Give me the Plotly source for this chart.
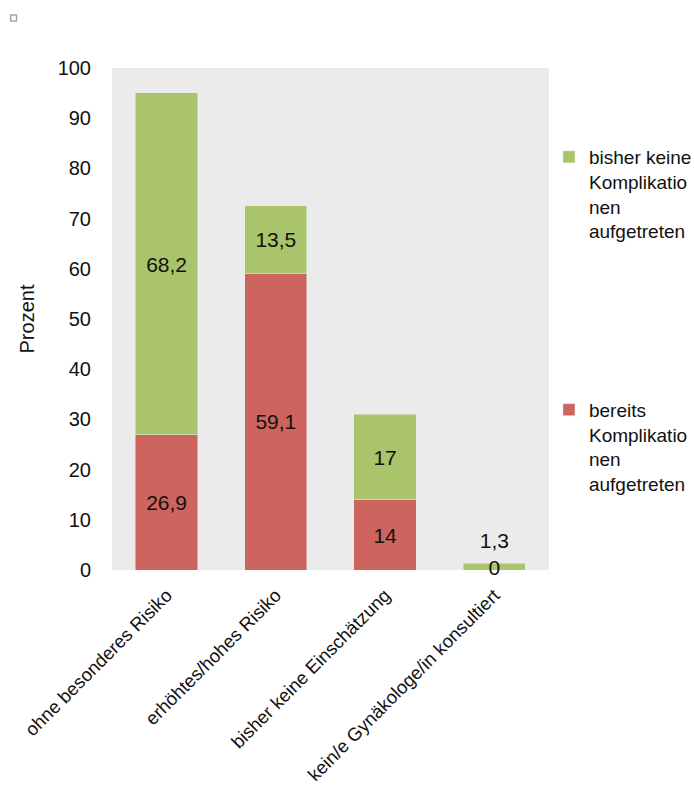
import plotly.graph_objects as go

# Categories and shares (percent)
categories = [
    "ohne besonderes Risiko",
    "erhöhtes/hohes Risiko",
    "bisher keine Einschätzung",
    "kein/e Gynäkologe/in konsultiert",
]
bereits = [26.9, 59.1, 14, 0]        # complications already occurred
bisher_keine = [68.2, 13.5, 17, 1.3]  # no complications so far
y_ticks = list(range(0, 101, 10))

name_bereits = "bereits<br>Komplikatio<br>nen<br>aufgetreten"
name_keine = "bisher keine<br>Komplikatio<br>nen<br>aufgetreten"

RED = "#cd655e"
GREEN = "#a9c46a"
FONT = "Liberation Sans, Arial, sans-serif"
FS = 20


def de(v):
    return f"{v:g}".replace(".", ",")


fig = go.Figure()
fig.add_trace(go.Bar(
    x=categories, y=bereits, name=name_bereits, marker_color=RED,
    legendgroup="a", legendrank=2, hoverinfo="skip",
))
fig.add_trace(go.Bar(
    x=categories, y=bisher_keine, name=name_keine, marker_color=GREEN,
    legendgroup="b", legendrank=1, hoverinfo="skip",
))

# Value labels: centred in each segment; tiny segments get the label above
lx, ly, lt, lp = [], [], [], []
for c, r, g in zip(categories, bereits, bisher_keine):
    lx.append(c); ly.append(max(r / 2 - 0.5, 0)); lt.append(de(r)); lp.append("middle center")
    if g < 5:
        lx.append(c); ly.append(r + g + 2); lt.append(de(g)); lp.append("top center")
    else:
        lx.append(c); ly.append(r + g / 2 - 0.5); lt.append(de(g)); lp.append("middle center")

fig.add_trace(go.Scatter(
    x=lx, y=ly, text=lt, mode="text", textposition=lp, cliponaxis=False,
    textfont=dict(family=FONT, size=21, color="#111111"),
    showlegend=False, hoverinfo="skip",
))

fig.update_layout(
    width=694, height=796,
    barmode="stack", bargap=0.43,
    separators=",.",
    paper_bgcolor="white",
    plot_bgcolor="#ebebeb",
    margin=dict(l=112, r=138, t=68, b=226),
    font=dict(family=FONT, size=FS, color="#111111"),
    legend=dict(
        xref="container", yref="container",
        x=0.791, xanchor="left", y=0.8266, yanchor="top",
        traceorder="grouped", tracegroupgap=151,
        valign="top", font=dict(family=FONT, size=19),
        bgcolor="rgba(0,0,0,0)",
    ),
    xaxis=dict(
        tickangle=-45, showgrid=False, showline=False, ticks="",
        automargin=False, ticklabelstandoff=10,
        tickfont=dict(family=FONT, size=18.5),
    ),
    yaxis=dict(
        range=[0, 100], tickvals=y_ticks, showgrid=False, zeroline=False,
        showline=False, ticks="", ticklabelstandoff=20, automargin=False,
        tickfont=dict(family=FONT, size=FS),
        title=dict(text="Prozent", standoff=17, font=dict(family=FONT, size=FS)),
    ),
    shapes=[dict(
        type="rect", xref="paper", yref="paper",
        x0=-0.232, x1=-0.2185, y0=1.0936, y1=1.1056,
        line=dict(color="#a6a6a6", width=1.5), fillcolor="white",
    )],
)

fig.write_html("out.html")
